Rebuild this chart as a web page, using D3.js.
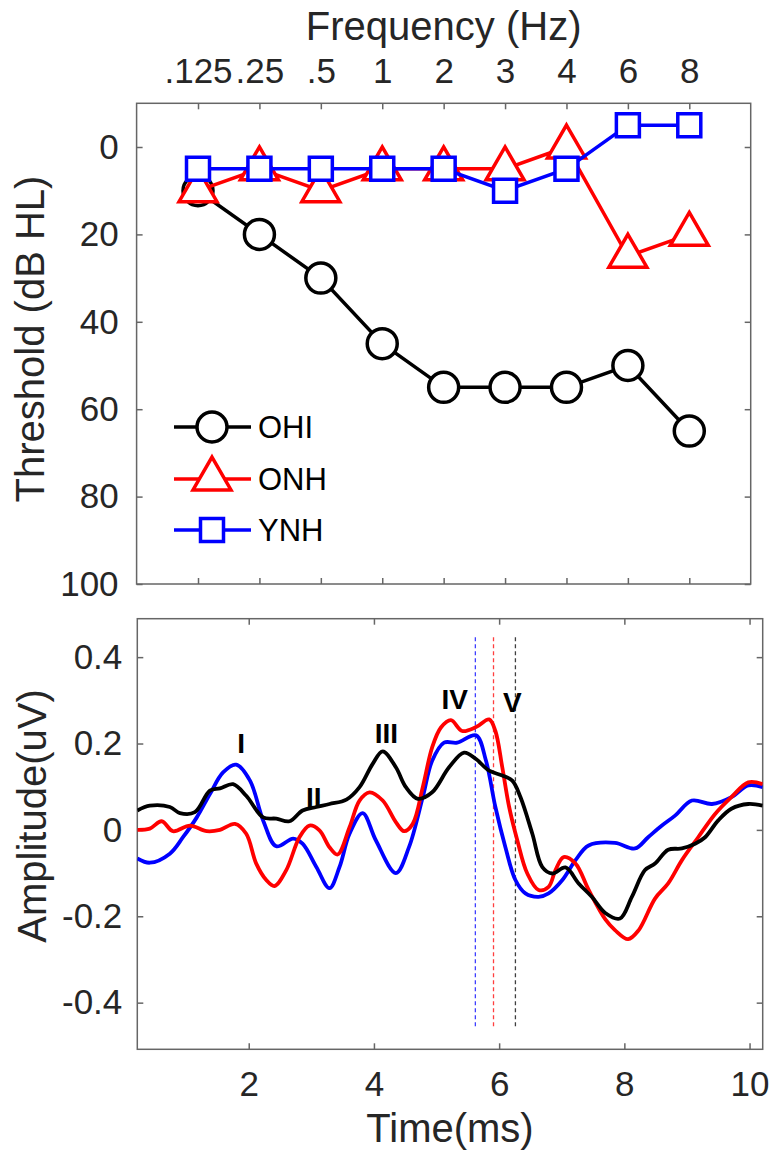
<!DOCTYPE html>
<html>
<head>
<meta charset="utf-8">
<script src="https://cdn.jsdelivr.net/npm/d3@7"></script>
<style>
body { margin: 0; background: #fff; }
text { font-family: "Liberation Sans", Arial, sans-serif; fill: #262626; }
.tk text { font-size: 35px; }
.ttl { font-size: 40px; }
.lg { font-size: 31px; fill: #000; }
.pk { font-size: 28px; font-weight: bold; fill: #000; }
</style>
</head>
<body>
<div id="svgdiv"></div>
<script>
// audiogram
const freqLabels = [".125", ".25", ".5", "1", "2", "3", "4", "6", "8"]
const ohi = [10, 20, 30, 45, 55, 55, 55, 50, 65]
const onh = [10, 5, 10, 5, 5, 5, 0, 25, 20]
const ynh = [5, 5, 5, 5, 5, 10, 5, -5, -5]
const thresholdTicks = [0, 20, 40, 60, 80, 100]
const groups = ["OHI", "ONH", "YNH"]

// ABR waveforms [time ms, amplitude uV]
const ohiWave = [[0.22,0.045],[0.42,0.056],[0.74,0.053],[0.90,0.039],[1.14,0.041],[1.38,0.091],[1.54,0.096],[1.75,0.106],[1.96,0.079],[2.23,0.029],[2.44,0.026],[2.65,0.020],[2.86,0.045],[3.08,0.053],[3.29,0.060],[3.56,0.070],[3.77,0.099],[3.98,0.153],[4.14,0.182],[4.35,0.145],[4.51,0.099],[4.70,0.072],[4.93,0.087],[5.20,0.145],[5.44,0.179],[5.63,0.164],[5.84,0.137],[6.05,0.126],[6.21,0.114],[6.34,0.076],[6.53,-0.009],[6.69,-0.086],[6.85,-0.101],[7.06,-0.087],[7.27,-0.124],[7.48,-0.155],[7.70,-0.193],[7.93,-0.205],[8.12,-0.155],[8.33,-0.093],[8.49,-0.078],[8.70,-0.046],[8.92,-0.043],[9.13,-0.032],[9.29,-0.017],[9.50,0.022],[9.71,0.049],[9.98,0.060],[10.21,0.056]]
const onhWave = [[0.22,0.0],[0.42,0.003],[0.61,0.020],[0.79,-0.003],[1.06,0.010],[1.33,-0.003],[1.54,0.0],[1.78,0.014],[1.96,-0.009],[2.12,-0.078],[2.28,-0.116],[2.41,-0.130],[2.60,-0.093],[2.81,-0.017],[2.97,0.010],[3.13,-0.001],[3.29,-0.040],[3.42,-0.057],[3.61,0.006],[3.77,0.068],[3.93,0.087],[4.14,0.068],[4.35,0.018],[4.48,-0.003],[4.62,0.014],[4.78,0.099],[4.93,0.191],[5.07,0.237],[5.23,0.254],[5.41,0.229],[5.63,0.238],[5.84,0.256],[5.94,0.229],[6.05,0.145],[6.16,0.053],[6.29,-0.024],[6.45,-0.101],[6.63,-0.139],[6.79,-0.132],[6.90,-0.093],[7.03,-0.063],[7.22,-0.078],[7.43,-0.139],[7.70,-0.208],[7.85,-0.232],[8.06,-0.253],[8.23,-0.232],[8.49,-0.159],[8.70,-0.124],[8.92,-0.070],[9.18,-0.017],[9.45,0.037],[9.71,0.076],[9.98,0.110],[10.21,0.106]]
const ynhWave = [[0.22,-0.066],[0.42,-0.076],[0.74,-0.055],[0.95,-0.017],[1.17,0.029],[1.38,0.083],[1.59,0.133],[1.80,0.151],[2.02,0.114],[2.23,0.022],[2.44,-0.038],[2.71,-0.020],[2.86,-0.032],[3.08,-0.086],[3.29,-0.135],[3.45,-0.086],[3.61,-0.009],[3.82,0.039],[4.03,-0.024],[4.35,-0.100],[4.56,-0.040],[4.78,0.076],[4.93,0.160],[5.12,0.202],[5.33,0.202],[5.63,0.219],[5.79,0.160],[5.94,0.053],[6.10,-0.040],[6.26,-0.116],[6.42,-0.147],[6.63,-0.155],[6.79,-0.147],[7.01,-0.116],[7.22,-0.070],[7.43,-0.036],[7.85,-0.030],[8.17,-0.043],[8.38,-0.017],[8.60,0.010],[8.81,0.033],[9.08,0.068],[9.40,0.060],[9.71,0.076],[9.98,0.103],[10.21,0.099]]
const timeTicks = [2, 4, 6, 8, 10]
const ampTicks = [-0.4, -0.2, 0, 0.2, 0.4]
// wave V latency per group (OHI, ONH, YNH)
const latencies = [6.26, 5.91, 5.62]
const peakNames = ["I", "II", "III", "IV", "V"]
const peakTimes = [1.88, 3.04, 4.20, 5.29, 6.21]
const peakAmps = [0.179, 0.053, 0.202, 0.279, 0.272]

const clr = { OHI: "#000000", ONH: "#ff0000", YNH: "#0000ff" }
const axisClr = "#666666"
const w = 770
const h = 1157

const svg = d3.select("#svgdiv").append("svg")
    .attr("width", w)
    .attr("height", h)
    .style("display", "block")

function styleAxis(g) {
    g.attr("class", "tk")
    g.select(".domain").remove()
    g.selectAll(".tick line").attr("stroke", axisClr).attr("stroke-width", 1.5)
}

// ---------- top panel ----------
const p1 = { left: 136.6, right: 750.7, top: 103.3, bottom: 584 }
const x1 = d3.scaleLinear().domain([-1, 9]).range([p1.left, p1.right])
const y1 = d3.scaleLinear().domain([-10, 100]).range([p1.top, p1.bottom])

svg.append("g").attr("transform", `translate(0,${p1.top})`)
    .call(d3.axisTop(x1).tickValues(d3.range(9)).tickFormat(i => freqLabels[i])
        .tickSizeInner(-6).tickSizeOuter(0).tickPadding(20))
    .call(styleAxis)
svg.append("g").attr("transform", `translate(0,${p1.bottom})`)
    .call(d3.axisBottom(x1).tickValues(d3.range(9)).tickFormat("").tickSizeInner(-6).tickSizeOuter(0))
    .call(styleAxis)
svg.append("g").attr("transform", `translate(${p1.left},0)`)
    .call(d3.axisLeft(y1).tickValues(thresholdTicks).tickSizeInner(-6).tickSizeOuter(0).tickPadding(18))
    .call(styleAxis)
svg.append("g").attr("transform", `translate(${p1.right},0)`)
    .call(d3.axisRight(y1).tickValues(thresholdTicks).tickFormat("").tickSizeInner(-6).tickSizeOuter(0))
    .call(styleAxis)

svg.append("rect")
    .attr("x", p1.left).attr("y", p1.top)
    .attr("width", p1.right - p1.left).attr("height", p1.bottom - p1.top)
    .attr("fill", "none").attr("stroke", axisClr).attr("stroke-width", 1.5)

svg.append("text").attr("class", "ttl")
    .attr("x", (p1.left + p1.right) / 2).attr("y", 40)
    .attr("text-anchor", "middle")
    .text("Frequency (Hz)")
svg.append("text").attr("class", "ttl")
    .attr("transform", `translate(44,339) rotate(-90)`)
    .attr("text-anchor", "middle")
    .text("Threshold (dB HL)")

const audioLine = d3.line().x((d, i) => x1(i)).y(d => y1(d))
const markerPath = {
    OHI: null,
    ONH: d3.symbol(d3.symbolTriangle, 625)(),
    YNH: d3.symbol(d3.symbolSquare, 529)()
}

function drawMarker(g, name, cx, cy) {
    if (name === "OHI") {
        g.append("circle").attr("cx", cx).attr("cy", cy).attr("r", 15)
            .attr("fill", "#fff").attr("stroke", clr[name]).attr("stroke-width", 3.5)
    } else {
        g.append("path").attr("d", markerPath[name])
            .attr("transform", `translate(${cx},${cy})`)
            .attr("fill", "#fff").attr("stroke", clr[name]).attr("stroke-width", 3.5)
            .attr("stroke-linejoin", "miter")
    }
}

const audioSeries = [ohi, onh, ynh]
audioSeries.forEach((vals, k) => {
    const name = groups[k]
    const g = svg.append("g")
    g.append("path").attr("d", audioLine(vals))
        .attr("fill", "none").attr("stroke", clr[name]).attr("stroke-width", 3.5)
    vals.forEach((v, i) => drawMarker(g, name, x1(i), y1(v)))
})

// legend
const legRows = [427, 479, 530]
groups.forEach((name, k) => {
    const g = svg.append("g")
    g.append("line").attr("x1", 174).attr("x2", 251).attr("y1", legRows[k]).attr("y2", legRows[k])
        .attr("stroke", clr[name]).attr("stroke-width", 3.5)
    drawMarker(g, name, 212, legRows[k])
    g.append("text").attr("class", "lg")
        .attr("x", 258).attr("y", legRows[k]).attr("dy", "0.36em")
        .text(name)
})

// ---------- bottom panel ----------
const p2 = { left: 137.3, right: 762.7, top: 618.7, bottom: 1049.3 }
const x2 = d3.scaleLinear().domain([0.22, 10.21]).range([p2.left, p2.right])
const y2 = d3.scaleLinear().domain([-0.508, 0.489]).range([p2.bottom, p2.top])
const ampFmt = d => d === 0 ? "0" : d.toFixed(1)

svg.append("g").attr("transform", `translate(0,${p2.bottom})`)
    .call(d3.axisBottom(x2).tickValues(timeTicks).tickFormat(d3.format("d"))
        .tickSizeInner(-6).tickSizeOuter(0).tickPadding(22))
    .call(styleAxis)
svg.append("g").attr("transform", `translate(0,${p2.top})`)
    .call(d3.axisTop(x2).tickValues(timeTicks).tickFormat("").tickSizeInner(-6).tickSizeOuter(0))
    .call(styleAxis)
svg.append("g").attr("transform", `translate(${p2.left},0)`)
    .call(d3.axisLeft(y2).tickValues(ampTicks).tickFormat(ampFmt).tickSizeInner(-6).tickSizeOuter(0).tickPadding(15))
    .call(styleAxis)
svg.append("g").attr("transform", `translate(${p2.right},0)`)
    .call(d3.axisRight(y2).tickValues(ampTicks).tickFormat("").tickSizeInner(-6).tickSizeOuter(0))
    .call(styleAxis)

svg.append("rect")
    .attr("x", p2.left).attr("y", p2.top)
    .attr("width", p2.right - p2.left).attr("height", p2.bottom - p2.top)
    .attr("fill", "none").attr("stroke", axisClr).attr("stroke-width", 1.5)

svg.append("text").attr("class", "ttl")
    .attr("x", (p2.left + p2.right) / 2).attr("y", 1142)
    .attr("text-anchor", "middle")
    .text("Time(ms)")
svg.append("text").attr("class", "ttl")
    .attr("transform", `translate(46,816) rotate(-90)`)
    .attr("text-anchor", "middle")
    .text("Amplitude(uV)")

svg.append("clipPath").attr("id", "clip2")
    .append("rect")
    .attr("x", p2.left).attr("y", p2.top)
    .attr("width", p2.right - p2.left).attr("height", p2.bottom - p2.top)

// latency markers
latencies.forEach((t, k) => {
    svg.append("line")
        .attr("x1", x2(t)).attr("x2", x2(t))
        .attr("y1", y2(0.446)).attr("y2", y2(-0.455))
        .attr("stroke", clr[groups[k]]).attr("stroke-width", 1.3)
        .attr("stroke-dasharray", "4,3").attr("opacity", 0.75)
})

const waveLine = d3.line()
    .x(d => x2(d[0])).y(d => y2(d[1]))
    .curve(d3.curveCatmullRom.alpha(0.5))

const waves = [ynhWave, onhWave, ohiWave]
const waveNames = ["YNH", "ONH", "OHI"]
waves.forEach((wv, k) => {
    svg.append("path").attr("d", waveLine(wv))
        .attr("clip-path", "url(#clip2)")
        .attr("fill", "none").attr("stroke", clr[waveNames[k]])
        .attr("stroke-width", 3.8).attr("stroke-linejoin", "round")
})

peakNames.forEach((n, i) => {
    svg.append("text").attr("class", "pk")
        .attr("x", x2(peakTimes[i])).attr("y", y2(peakAmps[i]))
        .attr("text-anchor", "middle")
        .text(n)
})
</script>
</body>
</html>
